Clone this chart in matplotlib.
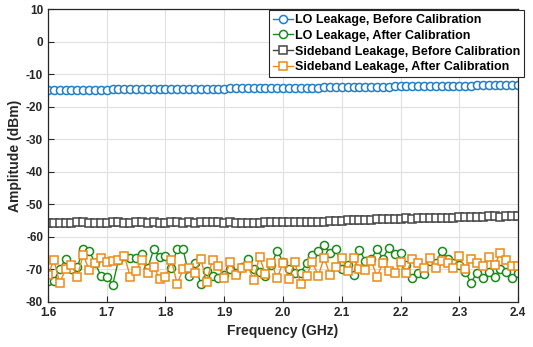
import numpy as np
import matplotlib
matplotlib.use("Agg")
import matplotlib.pyplot as plt

plt.rcParams['font.family'] = ['Liberation Sans', 'DejaVu Sans']
plt.rcParams['font.weight'] = 'bold'

freq_ghz = np.round(np.arange(1.6, 2.4001, 0.01), 2)

lo_before = [
    -15.0, -14.9, -14.9, -14.9, -14.9, -14.8, -14.8, -14.8, -14.8, -14.8,
    -14.8, -14.7, -14.7, -14.7, -14.7, -14.7, -14.7, -14.6, -14.6, -14.6,
    -14.6, -14.6, -14.6, -14.6, -14.5, -14.5, -14.5, -14.5, -14.5, -14.5,
    -14.5, -14.4, -14.4, -14.4, -14.4, -14.4, -14.4, -14.3, -14.3, -14.3,
    -14.3, -14.3, -14.3, -14.2, -14.2, -14.2, -14.2, -14.1, -14.1, -14.1,
    -14.1, -14.0, -14.0, -14.0, -14.0, -13.9, -13.9, -13.9, -13.9, -13.8,
    -13.8, -13.8, -13.8, -13.7, -13.7, -13.7, -13.7, -13.7, -13.6, -13.6,
    -13.6, -13.6, -13.6, -13.5, -13.5, -13.5, -13.5, -13.5, -13.4, -13.4, -13.4,
]

lo_after = [
    -73.6, -73.5, -70.0, -66.7, -69.8, -69.3, -63.8, -64.3, -67.9, -72.0,
    -72.2, -74.9, -67.1, -65.9, -66.4, -66.4, -65.4, -69.5, -63.8, -66.1,
    -66.0, -69.5, -63.6, -63.8, -72.0, -67.9, -74.6, -70.5, -72.0, -72.8,
    -71.8, -70.0, -71.0, -69.2, -66.7, -70.0, -70.8, -72.0, -68.7, -64.3,
    -67.7, -70.0, -71.2, -71.0, -68.1, -65.7, -64.3, -62.6, -65.1, -63.6,
    -70.0, -68.7, -71.8, -64.0, -67.4, -66.9, -63.8, -66.7, -63.3, -65.4,
    -64.9, -68.7, -72.8, -71.2, -71.5, -67.4, -67.9, -64.3, -66.9, -67.9,
    -68.7, -70.8, -74.1, -71.0, -72.8, -70.8, -72.2, -69.8, -70.8, -72.8, -71.0,
]

sb_before = [
    -55.9, -55.7, -55.8, -55.8, -55.9, -55.6, -55.4, -55.7, -55.7, -55.8,
    -55.7, -55.6, -55.6, -55.9, -55.7, -55.6, -55.5, -55.7, -55.6, -55.7,
    -55.8, -55.5, -55.3, -55.7, -55.6, -55.7, -55.5, -55.3, -55.6, -55.6,
    -55.7, -55.6, -55.7, -55.7, -55.8, -55.8, -55.9, -55.4, -55.6, -55.6,
    -55.6, -55.5, -55.5, -55.5, -55.4, -55.4, -55.3, -55.3, -55.2, -55.2,
    -55.0, -54.9, -54.9, -54.8, -54.8, -54.7, -54.6, -54.6, -54.5, -54.5,
    -54.4, -54.3, -54.4, -54.3, -54.3, -54.2, -54.2, -54.1, -54.2, -54.1,
    -54.0, -54.0, -53.9, -53.9, -54.0, -53.7, -53.7, -53.8, -53.7, -53.6, -53.5,
]

sb_after = [
    -71.8, -67.1, -74.1, -70.0, -68.6, -72.2, -65.5, -70.2, -68.1, -66.5,
    -67.7, -67.4, -67.1, -65.8, -72.2, -70.4, -67.0, -71.0, -69.2, -72.9,
    -72.4, -67.1, -74.6, -69.8, -69.6, -71.2, -66.7, -73.8, -67.1, -69.0,
    -72.8, -67.7, -71.8, -69.6, -69.0, -73.3, -66.1, -71.5, -67.9, -72.8,
    -67.9, -72.9, -67.7, -74.6, -72.0, -67.7, -72.0, -66.4, -71.8, -69.2,
    -66.4, -70.5, -66.4, -70.0, -70.2, -67.4, -72.2, -68.1, -70.5, -71.2,
    -67.7, -71.0, -66.7, -67.9, -69.6, -66.4, -69.6, -67.4, -68.1, -69.6,
    -65.9, -69.8, -66.7, -67.9, -69.0, -66.1, -68.7, -65.0, -67.1, -69.0, -69.0,
]

labels = [
    "LO Leakage, Before Calibration",
    "LO Leakage, After Calibration",
    "Sideband Leakage, Before Calibration",
    "Sideband Leakage, After Calibration",
]
colors = ["#1f7fc8", "#1a8a1a", "#454545", "#ee8a14"]
markers = ["o", "o", "s", "s"]
x_ticks = [1.6, 1.7, 1.8, 1.9, 2.0, 2.1, 2.2, 2.3, 2.4]
y_ticks = [10, 0, -10, -20, -30, -40, -50, -60, -70, -80]

fig = plt.figure(figsize=(5.33, 3.47), dpi=100)
ax = fig.add_axes([0.090, 0.130, 0.882, 0.844])

series = [lo_before, lo_after, sb_before, sb_after]
for vals, lab, col, mk in zip(series, labels, colors, markers):
    ax.plot(freq_ghz, vals, color=col, marker=mk, markersize=5.8,
            markerfacecolor="white", markeredgecolor=col, markeredgewidth=1.1,
            linewidth=1.0, label=lab)

ax.set_xlim(1.6, 2.4)
ax.set_ylim(-80, 10)
ax.set_xticks(x_ticks)
ax.set_xticklabels([f"{v:.1f}" for v in x_ticks])
ax.set_yticks(y_ticks)
ax.set_yticklabels([f"{v:d}" for v in y_ticks])
ax.grid(True, color="#e0e0e0", linewidth=0.8)
ax.set_axisbelow(True)
ax.tick_params(direction="in", length=4, width=0.8, labelsize=8.5,
               colors="#262626", top=False, right=False)
for lbl in ax.get_xticklabels() + ax.get_yticklabels():
    lbl.set_fontweight("bold")
for sp in ax.spines.values():
    sp.set_color("#262626")
    sp.set_linewidth(0.9)

ax.set_xlabel("Frequency (GHz)", fontsize=10, fontweight="bold", color="#262626", labelpad=4)
ax.set_ylabel("Amplitude (dBm)", fontsize=10, fontweight="bold", color="#262626", labelpad=3)

leg = ax.legend(loc="upper right", fontsize=9, handlelength=1.6, handletextpad=0.15,
                borderaxespad=0.1, borderpad=0.3, labelspacing=0.3, fancybox=False,
                framealpha=1.0, edgecolor="#262626", bbox_to_anchor=(1.015, 1.0))
leg.get_frame().set_linewidth(0.8)
for t in leg.get_texts():
    t.set_fontweight("bold")
    t.set_color("#000000")

fig.savefig("out.png", dpi=100)
